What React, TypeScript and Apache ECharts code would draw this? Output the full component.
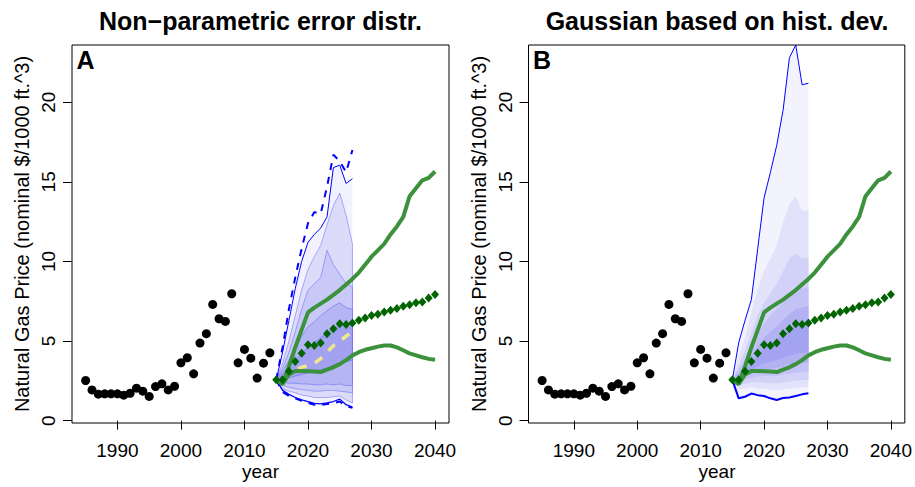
import React, { useEffect, useRef } from "react";
import * as echarts from "echarts";

// ---------- data ----------
const HIST_YEARS = [1985,1986,1987,1988,1989,1990,1991,1992,1993,1994,1995,1996,1997,1998,1999,2000,2001,2002,2003,2004,2005,2006,2007,2008,2009,2010,2011,2012,2013,2014];
const HIST_PRICE = [2.52,1.93,1.66,1.68,1.68,1.68,1.6,1.72,2.04,1.85,1.52,2.14,2.31,1.93,2.16,3.63,3.95,2.94,4.87,5.46,7.3,6.4,6.23,7.97,3.63,4.47,3.92,2.67,3.61,4.26];

const PROJ_YEARS = [2015,2016,2017,2018,2019,2020,2021,2022,2023,2024,2025,2026,2027,2028,2029,2030,2031,2032,2033,2034,2035,2036,2037,2038,2039,2040];
const PROJ_REF = [2.56,2.56,3.1,3.71,4.24,4.76,4.72,4.87,5.46,5.77,6.09,6.04,6.13,6.3,6.44,6.61,6.69,6.82,6.93,7.05,7.18,7.28,7.41,7.45,7.7,7.93];
const PROJ_HIGH = [2.56,2.3,3.4,4.6,5.7,6.8,7.1,7.35,7.6,7.9,8.2,8.55,8.9,9.3,9.8,10.3,10.7,11.1,11.7,12.2,12.8,14.1,14.6,15.1,15.25,15.65];
const PROJ_LOW = [2.56,2.3,2.9,3.12,3.12,3.1,3.08,3.05,3.2,3.35,3.55,3.8,4.1,4.3,4.45,4.55,4.65,4.72,4.72,4.6,4.42,4.22,4.1,3.98,3.88,3.82];

const FC_YEARS = [2015,2016,2017,2018,2019,2020,2021,2022,2023,2024,2025,2026,2027];

// Panel A: non-parametric error distribution
const A_OUT_HI = [2.56,4.3,6.3,8.3,10.0,11.2,11.7,12.1,12.8,15.9,16.05,14.9,15.2];
const A_OUT_LO = [2.56,1.9,1.65,1.45,1.3,1.2,1.08,1.05,1.12,1.2,1.35,1.0,0.85];
const A_DASH_HI = [2.56,4.6,7.0,9.0,10.8,12.4,13.1,13.0,14.7,16.7,16.3,15.6,17.0];
const A_DASH_LO = [2.56,1.8,1.55,1.4,1.25,1.12,1.0,0.98,1.05,1.1,1.2,0.92,0.8];
const A_B2_HI = [2.56,3.6,5.0,6.6,8.2,9.5,10.3,11.0,12.3,13.5,14.3,12.9,11.1];
const A_B2_LO = [2.56,2.0,1.85,1.75,1.6,1.55,1.45,1.45,1.45,1.5,1.55,1.3,1.1];
const A_B3_HI = [2.56,3.3,4.3,5.6,7.0,8.2,8.6,9.0,10.7,9.8,9.2,8.6,8.4];
const A_B3_LO = [2.56,2.2,2.1,2.0,1.95,1.9,1.85,1.85,1.9,1.9,1.85,1.8,1.75];
const A_B4_HI = [2.56,3.1,3.8,4.5,5.3,5.9,6.2,6.6,6.9,7.2,7.4,7.1,7.0];
const A_B4_LO = [2.56,2.4,2.35,2.35,2.3,2.3,2.25,2.25,2.3,2.25,2.3,2.2,2.2];
const A_B5_HI = [2.56,2.9,3.4,3.8,4.2,4.6,4.9,5.2,5.5,5.8,6.0,6.0,6.1];
const A_B5_LO = [2.56,2.6,2.7,2.8,2.9,3.0,3.1,3.2,3.3,3.5,3.6,3.7,3.8];
const A_MEDIAN = [2.56,2.7,2.9,3.2,3.35,3.45,3.6,3.9,4.3,4.7,5.0,5.3,5.6];

// Panel B: Gaussian based on historical deviation
const B_OUT_HI = [2.56,4.9,6.3,7.6,10.8,14.0,15.6,17.3,19.5,22.8,23.6,21.1,21.2];
const B_OUT_LO = [2.56,1.4,1.5,1.7,1.6,1.55,1.4,1.3,1.42,1.45,1.55,1.65,1.72];
const B_B2_HI = [2.56,4.0,5.2,6.8,8.3,9.4,10.2,11.0,12.5,13.6,14.1,13.2,13.2];
const B_B2_LO = [2.56,2.0,2.0,2.1,2.0,2.0,1.95,1.9,1.95,2.0,2.05,2.1,2.1];
const B_B3_HI = [2.56,3.5,4.4,5.5,6.6,7.4,8.0,8.6,9.4,10.2,10.5,10.2,10.2];
const B_B3_LO = [2.56,2.25,2.3,2.4,2.4,2.4,2.35,2.35,2.4,2.45,2.5,2.55,2.55];
const B_B4_HI = [2.56,3.2,3.9,4.7,5.5,6.1,6.6,7.0,7.5,8.0,8.3,8.3,8.4];
const B_B4_LO = [2.56,2.45,2.55,2.7,2.75,2.8,2.8,2.8,2.9,2.95,3.0,3.05,3.1];
const B_B5_HI = [2.56,3.0,3.5,4.1,4.7,5.2,5.6,5.9,6.3,6.7,7.0,7.1,7.2];
const B_B5_LO = [2.56,2.6,2.75,2.95,3.1,3.2,3.25,3.3,3.4,3.5,3.55,3.6,3.65];
const B_B6_HI = [2.56,2.8,3.2,3.6,4.1,4.5,4.8,5.1,5.4,5.8,6.0,6.1,6.2];
const B_B6_LO = [2.56,2.7,2.95,3.2,3.4,3.6,3.7,3.8,3.95,4.1,4.2,4.25,4.3];

const X_TICKS = [1990, 2000, 2010, 2020, 2030, 2040];
const Y_TICKS = [0, 5, 10, 15, 20];
const TITLES = ["Non\u2212parametric error distr.", "Gaussian based on hist. dev."];
const LETTERS = ["A", "B"];
const Y_NAME = "Natural Gas Price (nominal $/1000 ft.^3)";
const X_NAME = "year";

// ---------- layout ----------
const FONT = "Liberation Sans, Arial, Helvetica, sans-serif";
const GRIDS = [
  { left: 72, top: 45, width: 377, height: 378 },
  { left: 528.5, top: 45, width: 377, height: 378 },
];
const X_MIN = 1982.85, X_MAX = 2042.2, Y_MIN = -0.15, Y_MAX = 23.6;

const pairs = (xs: number[], ys: number[]) => xs.map((x, i) => [x, ys[i]]);

function band(g: number, lo: number[], hi: number[], fill: string, stroke?: string) {
  return {
    type: "custom",
    xAxisIndex: g,
    yAxisIndex: g,
    silent: true,
    z: 1,
    data: FC_YEARS.map((y, i) => [y, lo[i], hi[i]]),
    encode: { x: 0, y: [1, 2] },
    renderItem: (params: any, api: any) => {
      if (params.dataIndex !== 0) return null;
      const pts: number[][] = [];
      for (let i = 0; i < FC_YEARS.length; i++) pts.push(api.coord([FC_YEARS[i], hi[i]]));
      for (let i = FC_YEARS.length - 1; i >= 0; i--) pts.push(api.coord([FC_YEARS[i], lo[i]]));
      return {
        type: "polygon",
        shape: { points: pts },
        style: stroke
          ? { fill, stroke, lineWidth: 0.8 }
          : { fill, stroke: null, lineWidth: 0 },
      };
    },
  };
}

function line(g: number, xs: number[], ys: number[], color: string, width: number, type: any = "solid", z = 3) {
  return {
    type: "line",
    xAxisIndex: g,
    yAxisIndex: g,
    data: pairs(xs, ys),
    symbol: "none",
    showSymbol: false,
    silent: true,
    z,
    lineStyle: { color, width, type, opacity: 1 },
  };
}

function panelSeries(g: number) {
  const s: any[] = [];
  if (g === 0) {
    s.push(band(0, A_OUT_LO, A_OUT_HI, "#F2F2FE"));
    s.push(band(0, A_B2_LO, A_B2_HI, "#DCDCFA", "rgba(90,90,245,0.6)"));
    s.push(band(0, A_B3_LO, A_B3_HI, "#C9C9F7", "rgba(90,90,245,0.6)"));
    s.push(band(0, A_B4_LO, A_B4_HI, "#B5B5F4", "rgba(90,90,245,0.6)"));
    s.push(band(0, A_B5_LO, A_B5_HI, "#A2A2F1", "rgba(90,90,245,0.6)"));
    s.push(line(0, FC_YEARS, A_OUT_HI, "#0000FF", 1));
    s.push(line(0, FC_YEARS, A_OUT_LO, "#0000FF", 1.3));
    s.push(line(0, FC_YEARS, A_DASH_HI, "#0000FF", 2, [7, 7]));
    s.push(line(0, FC_YEARS, A_DASH_LO, "#0000FF", 2, [7, 7]));
    s.push(line(0, FC_YEARS.slice(1), A_MEDIAN.slice(1), "#F0E68C", 3.5, [9, 9], 4));
  } else {
    s.push(band(1, B_OUT_LO, B_OUT_HI, "#F3F3FE"));
    s.push(band(1, B_B2_LO, B_B2_HI, "#E2E2FB"));
    s.push(band(1, B_B3_LO, B_B3_HI, "#D2D2F9"));
    s.push(band(1, B_B4_LO, B_B4_HI, "#C2C2F6"));
    s.push(band(1, B_B5_LO, B_B5_HI, "#B2B2F3"));
    s.push(band(1, B_B6_LO, B_B6_HI, "#A3A3F1"));
    s.push(line(1, FC_YEARS, B_OUT_HI, "#0000FF", 1));
    s.push(line(1, FC_YEARS, B_OUT_LO, "#0000FF", 2));
  }
  s.push(line(g, PROJ_YEARS, PROJ_HIGH, "#3C913C", 4, "solid", 5));
  s.push(line(g, PROJ_YEARS, PROJ_LOW, "#3C913C", 4, "solid", 5));
  s.push({
    type: "scatter",
    xAxisIndex: g,
    yAxisIndex: g,
    data: pairs(PROJ_YEARS, PROJ_REF),
    symbol: "diamond",
    symbolSize: [8, 9],
    itemStyle: { color: "#006400", opacity: 1 },
    silent: true,
    z: 6,
  });
  s.push({
    type: "scatter",
    xAxisIndex: g,
    yAxisIndex: g,
    data: pairs(HIST_YEARS, HIST_PRICE),
    symbol: "circle",
    symbolSize: 9,
    itemStyle: { color: "#000000", opacity: 1 },
    silent: true,
    z: 6,
  });
  return s;
}

export default function App() {
  const ref = useRef<HTMLDivElement>(null);
  useEffect(() => {
    if (!ref.current) return;
    const chart = echarts.init(ref.current, undefined, { renderer: "svg" });
    const graphics: any[] = [];
    GRIDS.forEach((gr, i) => {
      const cx = gr.left + gr.width / 2;
      graphics.push({
        type: "text",
        x: cx,
        y: 21,
        style: { text: TITLES[i], font: `bold 25px ${FONT}`, fill: "#000", align: "center", verticalAlign: "middle" },
      });
      graphics.push({
        type: "text",
        x: gr.left + 4.5,
        y: 59.5,
        style: { text: LETTERS[i], font: `bold 25px ${FONT}`, fill: "#000", align: "left", verticalAlign: "middle" },
      });
      graphics.push({
        type: "text",
        x: gr.left - 50,
        y: gr.top + gr.height / 2,
        rotation: Math.PI / 2,
        style: { text: Y_NAME, font: `20px ${FONT}`, fill: "#000", align: "center", verticalAlign: "middle" },
      });
      graphics.push({
        type: "text",
        x: cx,
        y: 471,
        style: { text: X_NAME, font: `19px ${FONT}`, fill: "#000", align: "center", verticalAlign: "middle" },
      });
    });

    const option: any = {
      animation: false,
      backgroundColor: "#ffffff",
      grid: GRIDS.map((g) => ({ ...g, show: true, borderColor: "#000", borderWidth: 1, backgroundColor: "transparent", containLabel: false })),
      xAxis: GRIDS.map((_, i) => ({
        type: "value",
        gridIndex: i,
        min: X_MIN,
        max: X_MAX,
        axisLine: { show: false },
        splitLine: { show: false },
        axisTick: { show: true, customValues: X_TICKS, length: 9, lineStyle: { color: "#000", width: 1 } },
        axisLabel: { customValues: X_TICKS, formatter: (v: number) => String(v), color: "#000", fontSize: 19, lineHeight: 19, fontFamily: FONT, margin: 18 },
      })),
      yAxis: GRIDS.map((_, i) => ({
        type: "value",
        gridIndex: i,
        min: Y_MIN,
        max: Y_MAX,
        axisLine: { show: false },
        splitLine: { show: false },
        axisTick: { show: true, customValues: Y_TICKS, length: 9, lineStyle: { color: "#000", width: 1 } },
        axisLabel: { customValues: Y_TICKS, formatter: (v: number) => String(v), color: "#000", fontSize: 19, fontFamily: FONT, margin: 14, rotate: 90 },
      })),
      graphic: graphics,
      series: [...panelSeries(0), ...panelSeries(1)],
    };
    chart.setOption(option);
    return () => chart.dispose();
  }, []);
  return <div ref={ref} style={{ position: "fixed", left: 0, top: 0, width: 915, height: 487 }} />;
}
